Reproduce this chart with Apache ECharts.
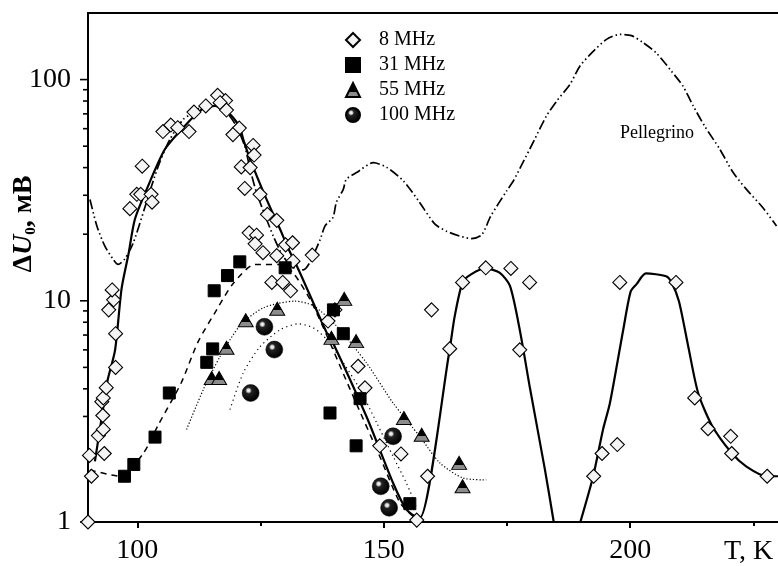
<!DOCTYPE html>
<html>
<head>
<meta charset="utf-8">
<script src="https://cdn.jsdelivr.net/npm/echarts@6/dist/echarts.min.js"></script>
<style>
html,body{margin:0;padding:0;background:#fff;}
#chart{width:778px;height:566px;}
</style>
</head>
<body>
<div id="chart"></div>
<script>
// ---- axes ----
const X_MIN = 90, X_MAX = 230;
const Y_MIN = 1, Y_MAX = 200;
const X_TICK_LABELS = [100, 150, 200];
const X_MINOR_TICKS = [125, 175, 225];
const Y_TICK_LABELS = [1, 10, 100];
const Y_MINOR_TICKS = [2, 3, 4, 5, 6, 7, 8, 9, 20, 30, 40, 50, 60, 70, 80, 90];

// ---- data: [T (K), dU0 (mV)] ----
const mhz8 = [
  [90.0,1.0],[90.3,2.0],[90.7,1.61],[92.1,2.46],[93.3,2.04],[93.1,2.62],[93.0,3.03],[92.8,3.5],[93.1,3.64],[93.7,4.05],
  [95.6,5.0],[95.6,7.1],[94.2,9.1],[95.2,10.1],[94.9,11.2],
  [98.5,26.1],[99.9,30.3],[100.7,30.3],[102.8,30.3],[103.0,27.9],[101.0,40.6],
  [105.2,58.2],[106.8,62.3],[108.2,60.6],[110.5,58.2],[111.5,71.3],[113.9,76.0],[116.3,84.9],[117.9,80.4],[116.8,78.6],[118.1,72.8],
  [120.7,60.4],[119.4,56.4],[123.5,50.4],[123.7,45.6],[121.1,40.3],[122.9,40.0],[121.8,32.2],[124.9,30.3],[126.4,24.6],[128.3,23.1],
  [122.7,20.3],[124.2,19.8],[123.9,18.1],[125.5,16.5],[128.3,16.0],[130.1,17.9],[131.5,18.3],[131.6,15.1],
  [127.3,12.1],[129.5,12.1],[131.1,11.1],[135.5,16.1],
  [140.1,9.1],[138.7,8.1],[144.8,5.06],[146.2,4.04],[149.2,2.21],[153.5,2.03],[156.7,1.02],[158.9,1.61],
  [159.7,9.1],[163.4,6.07],[166.0,12.1],[170.7,14.1],[175.8,14.0],[179.6,12.1],[177.6,6.0],
  [192.6,1.61],[194.3,2.04],[197.4,2.24],[197.9,12.1],[209.3,12.1],[213.1,3.64],[215.8,2.64],[220.4,2.44],[220.6,2.04],[227.8,1.61]
];
const mhz31 = [
  [97.4,1.61],[99.3,1.82],[103.6,2.42],[106.5,3.83],[114.1,5.27],[115.3,6.06],[115.6,11.1],[118.3,13.0],[120.8,15.0],
  [130.0,14.1],[139.8,9.1],[141.8,7.1],[139.1,3.11],[145.2,3.61],[144.4,2.21],[155.3,1.21]
];
const mhz55 = [
  [115.1,4.48],[116.6,4.48],[118.1,6.13],[122.0,8.17],[128.4,9.2],[139.4,6.8],[142.0,10.2],[144.4,6.57],
  [154.1,2.95],[157.7,2.48],[165.3,1.85],[166.0,1.45]
];
const mhz100 = [
  [123.0,3.83],[125.8,7.63],[127.8,6.02],[149.4,1.45],[151.1,1.16],[151.9,2.44]
];

// fit curves
const fit8a = [
  [91.4,1.88],[93.4,3.64],[94.0,4.4],[95.5,6.0],[96.8,11.3],[98.2,16.2],[99.5,23.3],[101.9,31.9],[105.6,48.4],
  [109.3,60.6],[113.1,73.3],[115.8,76],[118.1,72],[120.7,61.6],[121.5,53.7],[122.9,43.6],[126.1,29.2],[129.0,21.0],
  [130.5,17.5],[133.0,13.4],[138.4,7.2],[139.1,6.9],[146.5,3.0],[151.9,1.5],[154.6,1.14],[157.0,1.05],[157.4,1.05],
  [163.4,6.07],[164.4,8.5],[166.0,12.1],[167.8,13.2],[170.7,14.0],[173.5,13.4],[175.6,11.7],[177.6,7.4],[179.7,4.0],
  [182.7,1.73],[184.5,1.0]
];
const fit8b = [
  [189.9,1.0],[192.5,1.61],[194.5,2.62],[195.9,3.45],[198.6,7.4],[200.1,11.0],[201.3,11.9],[203.2,13.3],[207.3,12.9],
  [208.4,12.1],[209.9,9.96],[211.8,6.2],[213.8,3.83],[216.6,2.73],[220.6,2.05],[223.6,1.78],[227.7,1.61],[230,1.61]
];
const fit31 = [
  [90.4,1.72],[96.5,1.61],[101.2,2.04],[104.3,2.76],[108.9,4.25],[112.3,6.5],[116.1,9.1],[119.5,12.0],[123.9,14.6],
  [128.9,14.6],[131.6,13.4],[135.7,9.5],[143.8,3.7],[149.2,1.98],[153.3,1.22],[156.0,1.06]
];
const fit55 = [
  [110.0,2.62],[113.4,3.97],[116.8,5.6],[120.8,7.7],[125.6,9.3],[132.0,9.96],[135.7,9.5],[140.4,7.7],[146.5,5.24],
  [151.9,3.45],[157.3,2.44],[161.4,1.85],[166.1,1.58],[170.8,1.55]
];
const fit100 = [
  [118.8,3.22],[121.5,4.72],[124.9,6.2],[129.0,7.4],[132.7,7.87],[135.7,7.55],[138.4,6.7],[141.8,5.24],[145.2,3.97],
  [148.6,2.8],[151.9,1.98],[154.6,1.5],[156.6,1.18]
];
const pellegrino = [
  [90.4,28.7],[91.8,21.8],[93.4,17.7],[95.1,15.4],[96.1,14.6],[97.5,15.5],[99.2,18.3],[102.9,33],[104.5,42],[106.6,53.6],
  [109.3,66],[111.4,71],[113.4,76],[115.8,76],[118.1,71],[120.1,61.6],[121.8,50],[122.9,39.3],[124.2,30.8],[126.0,24.1],
  [127.6,19.6],[129.5,16.0],[131.5,14.2],[133.7,13.8],[135.0,14.9],[137.1,18.9],[138.1,21.8],[139.7,23.8],[140.4,27.9],
  [141.8,31.9],[142.4,35.4],[144.5,38],[147.9,42.1],[150.6,40.1],[154.0,34.8],[157.2,28.0],[160.4,22.2],[162.8,20.6],
  [165.5,19.6],[167.8,19.1],[169.9,19.9],[171.7,24.1],[174.9,31.3],[176.3,34.8],[178.2,42],[180.5,53],[183.0,68.4],
  [185.1,80],[187.8,95.3],[189.8,115],[192.2,132],[195.2,152],[197.9,160],[200.3,158],[202.6,147],[205.3,132],
  [208.4,109],[210.7,93.5],[212.8,76],[215.1,61.7],[218.2,48.4],[220.9,38],[223.6,31.9],[226.9,26.4],[229.7,21.8]
];

const SERIF = '"Liberation Serif", "Times New Roman", "DejaVu Serif", serif';

const sphereFill = {
  type: 'radial', x: 0.38, y: 0.36, r: 0.62,
  colorStops: [
    {offset: 0, color: '#ffffff'},
    {offset: 0.14, color: '#d8d8d8'},
    {offset: 0.3, color: '#222222'},
    {offset: 1, color: '#000000'}
  ]
};
const triFill = {
  type: 'linear', x: 0, y: 0, x2: 0, y2: 1,
  colorStops: [
    {offset: 0, color: '#000000'},
    {offset: 0.62, color: '#000000'},
    {offset: 0.62, color: '#8c8c8c'},
    {offset: 1, color: '#8c8c8c'}
  ]
};

function lineSeries(name, data, type, width) {
  return {
    name: name, type: 'line', data: data, showSymbol: false, symbol: 'none',
    smooth: 0.25, clip: true, silent: true, z: 2,
    lineStyle: {color: '#000', width: width, type: type}
  };
}

const chart = echarts.init(document.getElementById('chart'), null, {renderer: 'canvas'});

chart.setOption({
  animation: false,
  backgroundColor: '#fff',
  grid: {left: 88, right: 0, top: 13, bottom: 44, containLabel: false},
  legend: {
    orient: 'vertical', left: 340, top: 25, itemGap: 5,
    itemWidth: 14, itemHeight: 14,
    data: ['8 MHz', '31 MHz', '55 MHz', '100 MHz'],
    textStyle: {fontFamily: SERIF, fontSize: 20, color: '#000', lineHeight: 20, padding: [0, 0, 0, 14]}
  },
  xAxis: [
    {
      type: 'value', min: X_MIN, max: X_MAX, position: 'bottom',
      axisLine: {show: true, lineStyle: {color: '#000', width: 2}},
      axisTick: {show: true, customValues: X_TICK_LABELS, length: 6, lineStyle: {color: '#000', width: 2}},
      axisLabel: {show: true, customValues: X_TICK_LABELS, margin: 15, fontFamily: SERIF, fontSize: 28, color: '#000'},
      splitLine: {show: false}
    },
    {
      type: 'value', min: X_MIN, max: X_MAX, position: 'top',
      axisLine: {show: true, lineStyle: {color: '#000', width: 2}},
      axisTick: {show: false}, axisLabel: {show: false}, splitLine: {show: false}
    },
    {
      type: 'value', min: X_MIN, max: X_MAX, position: 'bottom',
      axisLine: {show: false},
      axisTick: {show: true, customValues: X_MINOR_TICKS, length: 4, lineStyle: {color: '#000', width: 2}},
      axisLabel: {show: false}, splitLine: {show: false}
    }
  ],
  yAxis: [{
    type: 'log', logBase: 10, min: Y_MIN, max: Y_MAX,
    axisLine: {show: true, lineStyle: {color: '#000', width: 2}},
    axisTick: {show: false},
    axisLabel: {
      margin: 17, fontFamily: SERIF, fontSize: 28, color: '#000',
      formatter: v => {
        const r = Math.round(v);
        return Y_TICK_LABELS.indexOf(r) >= 0 && Math.abs(r - v) < 1e-6 * r ? String(r) : '';
      }
    },
    splitLine: {show: false}, minorSplitLine: {show: false}
  }],
  graphic: [
    {
      type: 'text', x: 24, y: 224, rotation: Math.PI / 2,
      style: {
        text: '{a|Δ}{u|U}{s|0}{a|, мВ}',
        align: 'center', verticalAlign: 'middle',
        rich: {
          a: {fontFamily: SERIF, fontSize: 28, fontWeight: 'bold', lineHeight: 30, fill: '#000'},
          u: {fontFamily: SERIF, fontSize: 28, fontWeight: 'bold', fontStyle: 'italic', lineHeight: 30, fill: '#000'},
          s: {fontFamily: SERIF, fontSize: 15, fontWeight: 'bold', lineHeight: 14, verticalAlign: 'bottom', fill: '#000'}
        }
      }
    },
    {
      type: 'text', x: 724, y: 552,
      style: {text: 'T, K', fontFamily: SERIF, fontSize: 28, fill: '#000', align: 'left', verticalAlign: 'middle'}
    },
    {
      type: 'text', x: 620, y: 133,
      style: {text: 'Pellegrino', fontFamily: SERIF, fontSize: 18, fill: '#000', align: 'left', verticalAlign: 'middle'}
    }
  ],
  series: [
    {
      name: 'yticks', type: 'custom', silent: true, clip: false, z: 1,
      data: Y_TICK_LABELS.concat(Y_MINOR_TICKS).map(v => [X_MIN, v]),
      renderItem: function (params, api) {
        const v = api.value(1);
        const p = api.coord([api.value(0), v]);
        const len = Y_TICK_LABELS.indexOf(v) >= 0 ? 8 : 5;
        return {
          type: 'line',
          shape: {x1: p[0] - len, y1: p[1], x2: p[0], y2: p[1]},
          style: {stroke: '#000', lineWidth: 1.6}
        };
      }
    },
    lineSeries('Pellegrino', pellegrino, [10, 3, 1.5, 3, 1.5, 3], 1.7),
    lineSeries('fit31', fit31, [6, 5], 1.5),
    lineSeries('fit55', fit55, [1.2, 2], 1.2),
    lineSeries('fit100', fit100, [1.2, 3.5], 1.2),
    lineSeries('fit8a', fit8a, 'solid', 2.2),
    lineSeries('fit8b', fit8b, 'solid', 2.2),
    {
      name: '8 MHz', type: 'scatter', data: mhz8, symbol: 'diamond', symbolSize: 14, z: 5,
      itemStyle: {color: '#f4f4f4', borderColor: '#000', borderWidth: 1.1, opacity: 1}
    },
    {
      name: '31 MHz', type: 'scatter', data: mhz31, symbol: 'rect', symbolSize: 12, z: 5,
      itemStyle: {color: '#000', borderColor: '#000', borderWidth: 1, opacity: 1}
    },
    {
      name: '55 MHz', type: 'scatter', data: mhz55, symbol: 'triangle', symbolSize: [15, 13], z: 5,
      itemStyle: {color: triFill, borderColor: '#000', borderWidth: 1, opacity: 1}
    },
    {
      name: '100 MHz', type: 'scatter', data: mhz100, symbol: 'circle', symbolSize: 17, z: 5,
      itemStyle: {color: sphereFill, borderColor: '#000', borderWidth: 0.5, opacity: 1}
    }
  ]
});
</script>
</body>
</html>
